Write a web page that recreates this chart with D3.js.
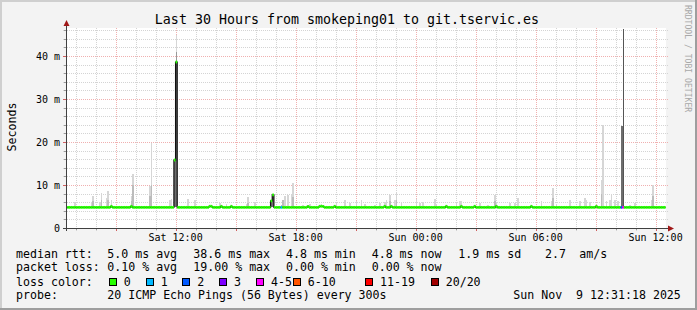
<!DOCTYPE html>
<html>
<head>
<meta charset="utf-8">
<script src="https://cdn.jsdelivr.net/npm/d3@7"></script>
<style>
  body { margin: 0; background: #f3f3f3; }
  text { font-family: "DejaVu Sans Mono", monospace; fill: #000; }
</style>
</head>
<body>
<script>
// --- data ---
const endTime = new Date(2025, 10, 9, 12, 31, 18)
const startTime = new Date(+endTime - 30 * 3600e3)
const lastSample = 'Sun 12:25'

const yTicks = [0, 10, 20, 30, 40]
const yTickLabels = ['0', '10 m', '20 m', '30 m', '40 m']
const xTickTimes = ['Sat 12:00', 'Sat 18:00', 'Sun 00:00', 'Sun 06:00', 'Sun 12:00']
const xTickLabels = ['Sat 12:00', 'Sat 18:00', 'Sun 00:00', 'Sun 06:00', 'Sun 12:00']

// median rtt (ms): flat level plus the steps where it moves
const medianLevel = 4.8
const medianTimes = ['Sat 08:45', 'Sat 09:45', 'Sat 11:55', 'Sat 12:00', 'Sat 13:40', 'Sat 13:45',
  'Sat 14:15', 'Sat 14:45', 'Sat 16:45', 'Sat 16:50', 'Sat 18:35', 'Sat 19:10', 'Sat 19:15',
  'Sat 19:20', 'Sat 19:55', 'Sat 22:25', 'Sat 22:45', 'Sun 01:30', 'Sun 02:15', 'Sun 02:55',
  'Sun 04:00', 'Sun 05:45', 'Sun 09:00']
const medianValues = [5.05, 5.05, 15.8, 38.6, 5.05, 5.05,
  5.05, 5.05, 6.3, 7.7, 5.05, 5.05, 5.05,
  5.05, 5.05, 5.05, 5.05, 5.05, 5.05, 5.05,
  5.05, 5.05, 5.05]

// smoke (ping spread) per 5 min step: top of the smoke and top of its denser part
const smokeTimes = ['Sat 06:55', 'Sat 07:45', 'Sat 07:50', 'Sat 08:10', 'Sat 08:15', 'Sat 08:30',
  'Sat 08:35', 'Sat 08:45', 'Sat 09:45', 'Sat 09:50', 'Sat 10:40', 'Sat 10:45', 'Sat 11:40',
  'Sat 11:45', 'Sat 12:00', 'Sat 12:35', 'Sat 12:55', 'Sat 14:10', 'Sat 14:30', 'Sat 14:45',
  'Sat 15:30', 'Sat 15:35', 'Sat 15:55', 'Sat 17:15', 'Sat 17:20', 'Sat 17:25', 'Sat 17:35',
  'Sat 17:45', 'Sat 17:50', 'Sat 18:20', 'Sat 18:40', 'Sat 19:15', 'Sat 20:00', 'Sat 20:25',
  'Sat 20:40', 'Sat 21:00', 'Sat 21:15', 'Sat 21:25', 'Sat 21:55', 'Sat 22:10', 'Sat 22:25',
  'Sat 22:30', 'Sat 22:40', 'Sat 22:55', 'Sat 23:00', 'Sat 23:15', 'Sun 00:00', 'Sun 00:10',
  'Sun 00:20', 'Sun 00:55', 'Sun 01:00', 'Sun 01:30', 'Sun 02:00', 'Sun 02:10', 'Sun 02:15',
  'Sun 03:10', 'Sun 03:35', 'Sun 03:55', 'Sun 04:00', 'Sun 04:40', 'Sun 04:55', 'Sun 05:05',
  'Sun 06:15', 'Sun 06:45', 'Sun 06:50', 'Sun 07:00', 'Sun 07:40', 'Sun 08:10', 'Sun 08:25',
  'Sun 08:30', 'Sun 08:40', 'Sun 09:15', 'Sun 09:20', 'Sun 09:30', 'Sun 09:40', 'Sun 09:45',
  'Sun 09:55', 'Sun 10:05', 'Sun 10:40', 'Sun 10:55', 'Sun 11:45', 'Sun 11:50']
const smokeTops = [6.0, 6.0, 7.5, 6.0, 8.1, 7.0,
  8.6, 6.5, 7.5, 12.6, 9.8, 19.8, 6.5,
  6.7, 44.9, 6.8, 6.5, 5.8, 5.5, 5.3,
  5.6, 7.3, 6.0, 5.3, 6.6, 7.5, 7.7,
  7.7, 10.4, 5.3, 5.5, 5.5, 5.8, 6.6,
  5.8, 6.2, 6.5, 5.5, 5.3, 5.8, 6.0,
  6.5, 7.7, 6.5, 8.1, 6.0, 6.8, 5.8,
  6.0, 6.8, 5.3, 5.3, 5.8, 6.3, 6.3,
  5.8, 5.3, 7.7, 5.8, 5.8, 5.8, 7.0,
  6.2, 6.3, 9.4, 5.5, 6.6, 6.2, 7.0,
  6.5, 6.0, 11.2, 24.0, 6.2, 6.5, 7.9,
  6.5, 6.2, 5.3, 5.8, 6.5, 9.9]
const smokeMids = [0, 0, 6.2, 0, 6.5, 0,
  6.6, 0, 6.3, 10.0, 7.5, 10.0, 0,
  0, 41.0, 0, 0, 0, 0, 0,
  0, 5.8, 0, 5.3, 6.6, 0, 0,
  0, 7.2, 0, 0, 0, 0, 0,
  0, 0, 0, 0, 0, 0, 0,
  0, 6.2, 0, 6.4, 0, 0, 0,
  0, 0, 0, 0, 0, 0, 0,
  0, 0, 6.3, 0, 0, 0, 0,
  0, 0, 7.0, 0, 0, 0, 0,
  0, 0, 8.0, 0, 0, 0, 0,
  0, 0, 0, 0, 0, 7.5]

// steps where nearly all pings were slow (dense smoke)
const denseTimes = ['Sat 11:55', 'Sat 12:00', 'Sat 16:45', 'Sat 16:50', 'Sun 10:15', 'Sun 10:20']
const denseTops = [15.8, 38.6, 6.3, 7.7, 23.7, 23.7]
const peakTimes = ['Sun 10:20']
const peakValues = [46.2]

// packet loss per step (number of lost pings of 20)
const lossTimes = ['Sat 17:15', 'Sun 10:15', 'Sun 10:20']
const lossLevels = [1, 2, 4]

const lossLabels = ['0', '1', '2', '3', '4-5', '6-10', '11-19', '20/20']
const lossColors = ['#26ff00', '#00b8ff', '#0059ff', '#7e00ff', '#ff00ff', '#ff5500', '#ff0000', '#a10000']
const lossLimits = [0, 1, 2, 3, 5, 10, 19, 20]

const rttStats = ['5.0 ms avg', '38.6 ms max', '4.8 ms min', '4.8 ms now', '1.9 ms sd', '2.7', 'am/s']
const lossStats = ['0.10 % avg', '19.00 % max', '0.00 % min', '0.00 % now']
const probeText = '20 ICMP Echo Pings (56 Bytes) every 300s'
const stampText = 'Sun Nov  9 12:31:18 2025'
const title = 'Last 30 Hours from smokeping01 to git.tservic.es'

// --- helpers ---
function t(s) {
  let [day, hm] = s.split(' ')
  let [h, m] = hm.split(':').map(Number)
  return new Date(2025, 10, day === 'Sat' ? 8 : 9, h, m)
}
const step = 5 * 60e3
const lossColor = n => lossColors[lossLimits.findIndex(l => n <= l)]

let width = 697
let height = 310

let svg = d3.select('body').append('svg')
  .attr('width', width)
  .attr('height', height)

// frame
svg.append('rect').attr('width', width).attr('height', height).attr('fill', '#f3f3f3')
svg.append('rect').attr('width', width).attr('height', 2).attr('fill', '#cfcfcf')
svg.append('rect').attr('width', 2).attr('height', height).attr('fill', '#cfcfcf')
svg.append('rect').attr('x', width - 2).attr('width', 2).attr('height', height).attr('fill', '#9e9e9e')
svg.append('rect').attr('y', height - 2).attr('width', width).attr('height', 2).attr('fill', '#9e9e9e')

let xScale = d3.scaleTime().domain([startTime, endTime]).range([66, 666])
let yScale = d3.scaleLinear().domain([0, 200 / 4.3]).range([228, 28])
let [x0, x1] = xScale.range()
let [y0, y1] = yScale.range()

svg.append('rect')
  .attr('x', x0).attr('y', y1)
  .attr('width', x1 - x0).attr('height', y0 - y1)
  .attr('fill', '#fff')

svg.append('clipPath').attr('id', 'plot')
  .append('rect')
  .attr('x', x0).attr('y', y1)
  .attr('width', x1 - x0).attr('height', y0 - y1)

// grid
let grid = svg.append('g').attr('shape-rendering', 'crispEdges').attr('stroke-dasharray', '1,1')
let hours = d3.timeHour.range(startTime, endTime)
grid.selectAll('.vgrid')
  .data(hours)
  .enter()
  .append('line')
  .attr('x1', d => Math.round(xScale(d)) + 0.5)
  .attr('x2', d => Math.round(xScale(d)) + 0.5)
  .attr('y1', y1).attr('y2', y0 + 3)
  .attr('stroke', d => d.getHours() % 3 === 0 ? '#f0b0b0' : '#d4d4d4')

let msLines = d3.range(2, 47, 2)
grid.selectAll('.hgrid')
  .data(msLines)
  .enter()
  .append('line')
  .attr('x1', x0 - 3).attr('x2', x1 + 2)
  .attr('y1', d => Math.round(yScale(d)) + 0.5)
  .attr('y2', d => Math.round(yScale(d)) + 0.5)
  .attr('stroke', d => d % 10 === 0 ? '#f0b0b0' : '#d4d4d4')

// build the 5 minute slots for the median line
let medianMap = new Map(medianTimes.map((s, i) => [+t(s), medianValues[i]]))
let lossMap = new Map(lossTimes.map((s, i) => [+t(s), lossLevels[i]]))
let slots = d3.timeMinute.every(5).range(d3.timeMinute.every(5).floor(startTime), new Date(+t(lastSample) + 1))
  .map(d => ({ time: d, value: medianMap.has(+d) ? medianMap.get(+d) : medianLevel, loss: lossMap.get(+d) || 0 }))

let plot = svg.append('g').attr('clip-path', 'url(#plot)')

// light smoke
let smoke = smokeTimes.map((s, i) => ({ time: t(s), top: smokeTops[i], mid: smokeMids[i] }))
plot.selectAll('.smoke')
  .data(smoke)
  .enter()
  .append('rect')
  .attr('class', 'smoke')
  .attr('x', d => xScale(d.time))
  .attr('width', d => xScale(new Date(+d.time + step)) - xScale(d.time))
  .attr('y', d => yScale(d.top))
  .attr('height', d => yScale(medianLevel) - yScale(d.top))
  .attr('fill', '#d6d6d6')
  .attr('shape-rendering', 'crispEdges')

plot.selectAll('.smoke-mid')
  .data(smoke.filter(d => d.mid > 0))
  .enter()
  .append('rect')
  .attr('class', 'smoke-mid')
  .attr('x', d => xScale(d.time))
  .attr('width', d => xScale(new Date(+d.time + step)) - xScale(d.time))
  .attr('y', d => yScale(d.mid))
  .attr('height', d => yScale(medianLevel) - yScale(d.mid))
  .attr('fill', d => d.top > 30 ? '#9a9a9a' : '#bcbcbc')
  .attr('shape-rendering', 'crispEdges')

// dense smoke
let dense = denseTimes.map((s, i) => ({ time: t(s), top: denseTops[i] }))
plot.selectAll('.dense')
  .data(dense)
  .enter()
  .append('rect')
  .attr('class', 'dense')
  .attr('x', d => xScale(d.time))
  .attr('width', d => xScale(new Date(+d.time + step)) - xScale(d.time))
  .attr('y', d => yScale(d.top))
  .attr('height', d => yScale(medianLevel) - yScale(d.top))
  .attr('fill', '#6e6e6e')
  .attr('shape-rendering', 'crispEdges')

plot.selectAll('.peak')
  .data(peakTimes.map((s, i) => ({ time: t(s), value: peakValues[i] })))
  .enter()
  .append('line')
  .attr('x1', d => Math.round(xScale(new Date(+d.time + step * 0.7))) + 0.5)
  .attr('x2', d => Math.round(xScale(new Date(+d.time + step * 0.7))) + 0.5)
  .attr('y1', d => yScale(d.value))
  .attr('y2', yScale(medianLevel))
  .attr('stroke', '#555')
  .attr('shape-rendering', 'crispEdges')

// median: black step line, then loss coloured segments
let stepPoints = slots.concat([{ time: new Date(+slots[slots.length - 1].time + step), value: slots[slots.length - 1].value }])
plot.append('path')
  .datum(stepPoints)
  .attr('d', d3.line().x(d => xScale(d.time)).y(d => yScale(d.value)).curve(d3.curveStepAfter))
  .attr('fill', 'none')
  .attr('stroke', '#111')
  .attr('stroke-width', 1.2)

plot.selectAll('.median')
  .data(slots)
  .enter()
  .append('line')
  .attr('class', 'median')
  .attr('x1', d => xScale(d.time))
  .attr('x2', d => xScale(new Date(+d.time + step)))
  .attr('y1', d => yScale(d.value))
  .attr('y2', d => yScale(d.value))
  .attr('stroke', d => lossColor(d.loss))
  .attr('stroke-width', 2.8)

// axes
let axes = svg.append('g').attr('shape-rendering', 'crispEdges')
axes.selectAll('.xtick')
  .data(hours)
  .enter()
  .append('line')
  .attr('x1', d => Math.round(xScale(d)) + 0.5)
  .attr('x2', d => Math.round(xScale(d)) + 0.5)
  .attr('y1', y0).attr('y2', d => y0 + (d.getHours() % 3 === 0 ? 3 : 2))
  .attr('stroke', d => d.getHours() % 3 === 0 ? '#d06060' : '#999')
axes.selectAll('.ytick')
  .data(msLines)
  .enter()
  .append('line')
  .attr('x1', d => x0 - (d % 10 === 0 ? 3 : 2)).attr('x2', x0)
  .attr('y1', d => Math.round(yScale(d)) + 0.5)
  .attr('y2', d => Math.round(yScale(d)) + 0.5)
  .attr('stroke', d => d % 10 === 0 ? '#d06060' : '#999')

axes.append('line')
  .attr('x1', x0 + 0.5).attr('x2', x0 + 0.5)
  .attr('y1', y0 + 3).attr('y2', y1 - 3)
  .attr('stroke', '#404040')
axes.append('line')
  .attr('x1', x0 - 3).attr('x2', x1 + 3)
  .attr('y1', y0 + 0.5).attr('y2', y0 + 0.5)
  .attr('stroke', '#404040')

svg.append('path')
  .attr('d', `M${x0 - 2.5},${y1 - 2}L${x0 + 3.5},${y1 - 2}L${x0 + 0.5},${y1 - 8}Z`)
  .attr('fill', '#a01818')
svg.append('path')
  .attr('d', `M${x1 + 2},${y0 - 2.5}L${x1 + 2},${y0 + 3.5}L${x1 + 8},${y0 + 0.5}Z`)
  .attr('fill', '#a01818')

// tick labels
svg.selectAll('.ylabel')
  .data(yTicks)
  .enter()
  .append('text')
  .attr('x', 60)
  .attr('y', d => yScale(d) + 3.6)
  .attr('text-anchor', 'end')
  .attr('font-size', 10)
  .text((d, i) => yTickLabels[i])

svg.selectAll('.xlabel')
  .data(xTickTimes)
  .enter()
  .append('text')
  .attr('x', d => xScale(t(d)))
  .attr('y', 240.5)
  .attr('text-anchor', 'middle')
  .attr('font-size', 10)
  .text((d, i) => xTickLabels[i])

// titles
svg.append('text')
  .text(title)
  .attr('x', 347)
  .attr('y', 24)
  .attr('text-anchor', 'middle')
  .attr('font-size', 13.3)

svg.append('text')
  .text('Seconds')
  .attr('transform', 'translate(15.5,127) rotate(-90)')
  .attr('text-anchor', 'middle')
  .attr('font-size', 11.6)

svg.append('text')
  .text('RRDTOOL / TOBI OETIKER')
  .attr('transform', 'translate(684.5,5) rotate(90)')
  .attr('font-size', 8.1)
  .style('fill', '#a8a8a8')

// legend
let legend = svg.append('g').attr('font-size', 11.6)
let cols = [107.3, 193.3, 286, 371.7, 458.3, 545, 579.3]
let rows = [257.7, 271.3, 285.7, 299]

legend.append('text').text('median rtt:').attr('x', 16).attr('y', rows[0])
rttStats.forEach((s, i) => legend.append('text').text(s).attr('x', cols[i]).attr('y', rows[0]))
legend.append('text').text('packet loss:').attr('x', 16).attr('y', rows[1])
lossStats.forEach((s, i) => legend.append('text').text(s).attr('x', cols[i]).attr('y', rows[1]))
legend.append('text').text('loss color:').attr('x', 16).attr('y', rows[2])

let boxX = [108.7, 145.7, 182.3, 219, 256, 292.7, 365, 430.7]
legend.selectAll('.loss-entry')
  .data(lossLabels)
  .enter()
  .append('g')
  .attr('class', 'loss-entry')
  .attr('transform', (d, i) => `translate(${boxX[i]},${rows[2]})`)
  .each(function(d, i) {
    let g = d3.select(this)
    g.append('rect')
      .attr('x', 0.5).attr('y', -7.5)
      .attr('width', 7).attr('height', 7)
      .attr('fill', lossColors[i])
      .attr('stroke', '#000')
      .attr('shape-rendering', 'crispEdges')
    g.append('text').text(d).attr('x', 15)
  })

legend.append('text').text('probe:').attr('x', 16).attr('y', rows[3])
legend.append('text').text(probeText).attr('x', cols[0]).attr('y', rows[3]).style('white-space', 'pre')
legend.append('text').text(stampText).attr('x', 513.3).attr('y', rows[3]).style('white-space', 'pre')
</script>
</body>
</html>
